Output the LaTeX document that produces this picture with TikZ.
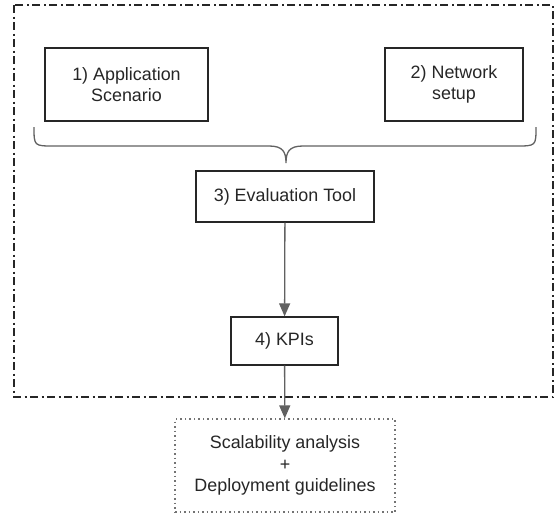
\documentclass[tikz,border=0pt]{standalone}
\usepackage{fontspec}
\setmainfont{Liberation Sans}
\usepackage{tikz}
\usetikzlibrary{arrows.meta,positioning,calc}

\begin{document}
\begin{tikzpicture}[x=1pt,y=-1pt,>={Triangle[width=11pt,length=13pt]},
stepbox/.style = {draw=black!85, line width=1.3pt, align=center, text=black!85, inner sep=2pt, font=\fontsize{17.9}{21.5}\selectfont},
flow/.style = {->, draw=black!62, fill=black!62, line width=1.3pt},]
\useasboundingbox (0,0) rectangle (556,514);
\draw[black!85, line width=1.5pt, dash pattern=on 8pt off 3.5pt on 2pt off 3.5pt] (14,5) rectangle (553,397);
\node (app) at (126.5,84.5)[stepbox, minimum width=163pt, minimum height=73pt] {1) Application\\Scenario};
\node (net) at (454,84.5)[stepbox, minimum width=138pt, minimum height=73pt] {2) Network\\setup};
\node (tool) at (285,196.5)[stepbox, minimum width=178pt, minimum height=51pt] {3) Evaluation Tool};
\node (kpi) at (284.5,341)[stepbox, minimum width=107pt, minimum height=48pt] {4) KPIs};
\node (out) at (285,465.5)[stepbox, draw=black!55, dash pattern=on 1.5pt off 3pt, minimum width=220pt, minimum height=93pt] {Scalability analysis\\+\\Deployment guidelines};
\coordinate (bl) at (34,127);
\coordinate (br) at (536,127);
\coordinate (tip) at (286,163);
\draw[black!62, line width=1.3pt] (bl) .. controls (34,146) .. (54,146) -- (269,146) .. controls (283,146) and (286,152) .. (tip) .. controls (286,152) and (289,146) .. (303,146) -- (516,146) .. controls (536,146) .. (br);
\draw[flow] (tool)--(kpi);
\draw[flow] (kpi)--(out);
\end{tikzpicture}
\end{document}
